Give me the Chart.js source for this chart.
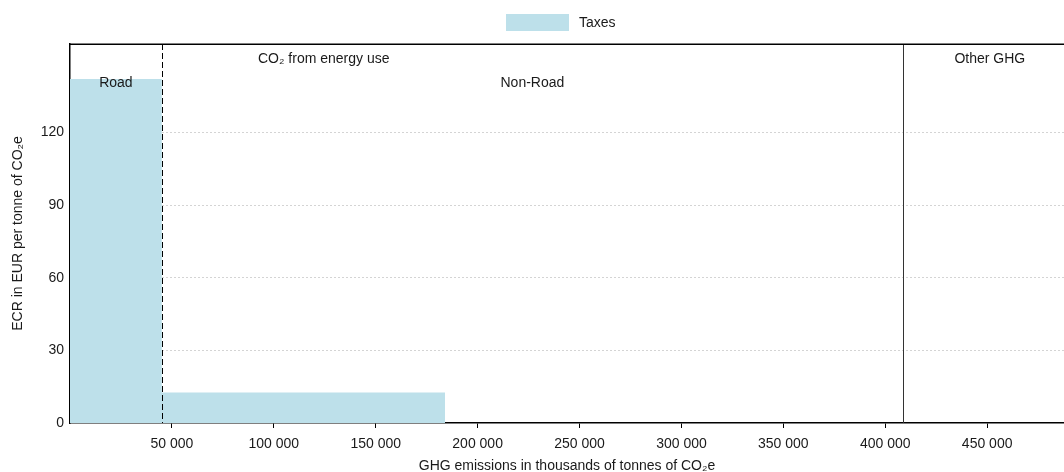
<!DOCTYPE html>
<html>
<head>
<meta charset="utf-8">
<script src="https://cdn.jsdelivr.net/npm/chart.js@4.4.1/dist/chart.umd.min.js"></script>
<style>
  html, body { margin: 0; padding: 0; background: #fff; overflow: hidden; }
  #wrap { width: 1064px; height: 472px; }
</style>
</head>
<body>
<div id="wrap"><canvas id="c" width="1064" height="472"></canvas></div>
<script>
// Emission blocks: cumulative boundaries (thousand t CO2e) and tax rates (EUR / t CO2e)
const blockNames = ['Road', 'Non-Road'];
const blockEnds = [45040, 184000];          // right edge of each taxed block
const blockRates = [142, 12.6];             // effective carbon rate per block
const roadEnd = 45040;                      // Road | Non-Road split (dashed)
const energyEnd = 408700;                   // CO2 from energy use | Other GHG split (solid)
const xMax = 487700;
const yMax = 156.5;
const yTicks = [0, 30, 60, 90, 120];
const xTicks = [50000, 100000, 150000, 200000, 250000, 300000, 350000, 400000, 450000];

const seriesName = 'Taxes';
const barColor = '#bde0ea';
const FONT = '"Liberation Sans", Arial, sans-serif';
const TEXT = '#1a1a1a';

// Step outline of the blocks: start at 0 with the first rate, then one point per block edge
const stepPoints = [{ x: 0, y: blockRates[0] }];
blockEnds.forEach((end, i) => {
  stepPoints.push({ x: end, y: i + 1 < blockRates.length ? blockRates[i + 1] : 0 });
});

const fmt = v => String(v).replace(/\B(?=(\d{3})+(?!\d))/g, ' ');

const annotations = {
  id: 'annotations',
  afterDatasetsDraw(chart) {
    const { ctx, chartArea: a, scales: { x, y } } = chart;
    ctx.save();
    // dashed Road / Non-Road divider
    const xr = Math.round(x.getPixelForValue(roadEnd)) + 0.5;
    ctx.strokeStyle = '#000';
    ctx.lineWidth = 1;
    ctx.setLineDash([6, 3]);
    ctx.beginPath(); ctx.moveTo(xr, a.top); ctx.lineTo(xr, a.bottom); ctx.stroke();
    // solid energy / other GHG divider
    ctx.setLineDash([]);
    const xe = Math.round(x.getPixelForValue(energyEnd)) + 0.5;
    ctx.strokeStyle = '#333';
    ctx.beginPath(); ctx.moveTo(xe, a.top); ctx.lineTo(xe, a.bottom); ctx.stroke();
    // top frame line
    ctx.strokeStyle = '#000';
    ctx.lineWidth = 1.5;
    ctx.beginPath(); ctx.moveTo(a.left, a.top + 0.25); ctx.lineTo(a.right, a.top + 0.25); ctx.stroke();

    // section labels
    ctx.fillStyle = TEXT;
    ctx.font = '14px ' + FONT;
    ctx.textAlign = 'center';
    ctx.textBaseline = 'middle';
    ctx.fillText('CO\u2082 from energy use', x.getPixelForValue(124500), 59);
    ctx.fillText('Other GHG', x.getPixelForValue(451300), 59);
    ctx.fillText(blockNames[0], x.getPixelForValue(roadEnd / 2), 83);
    ctx.fillText(blockNames[1], x.getPixelForValue((roadEnd + energyEnd) / 2), 83);

    // legend
    ctx.fillStyle = barColor;
    ctx.fillRect(506, 14, 63, 17);
    ctx.fillStyle = TEXT;
    ctx.textAlign = 'left';
    ctx.fillText(seriesName, 579, 23);
    ctx.restore();
  }
};

new Chart(document.getElementById('c'), {
  type: 'line',
  data: {
    datasets: [{
      label: seriesName,
      data: stepPoints,
      stepped: true,
      fill: 'origin',
      backgroundColor: barColor,
      borderWidth: 0,
      borderColor: 'rgba(0,0,0,0)',
      pointRadius: 0
    }]
  },
  options: {
    responsive: false,
    animation: false,
    layout: { padding: { top: 44, right: 0, left: 10, bottom: 0 } },
    plugins: { legend: { display: false }, tooltip: { enabled: false } },
    scales: {
      x: {
        type: 'linear',
        min: 0,
        max: xMax,
        afterBuildTicks: s => { s.ticks = xTicks.map(v => ({ value: v })); },
        afterFit: s => { s.height = 49; },
        ticks: {
          autoSkip: false, maxRotation: 0,
          color: TEXT, font: { family: FONT, size: 14 }, padding: 8,
          callback: v => fmt(v)
        },
        grid: { display: true, drawOnChartArea: false, drawTicks: true, tickLength: 5, color: '#000', lineWidth: 1 },
        border: { display: true, color: '#000', width: 1.5 },
        title: {
          display: true, text: 'GHG emissions in thousands of tonnes of CO\u2082e',
          color: TEXT, font: { family: FONT, size: 14 }, padding: { top: 0, bottom: -3 }
        }
      },
      y: {
        min: 0,
        max: yMax,
        afterBuildTicks: s => { s.ticks = yTicks.map(v => ({ value: v })); },
        afterFit: s => { s.width = 60; },
        ticks: { color: TEXT, font: { family: FONT, size: 14 }, padding: 6 },
        grid: {
          display: true, drawTicks: false,
          color: ctx => ctx.tick && ctx.tick.value === 0 ? 'rgba(0,0,0,0)' : '#a8a8a8',
          lineWidth: 1
        },
        border: { display: true, color: '#000', width: 1.5, dash: [1, 3] },
        title: {
          display: true, text: 'ECR in EUR per tonne of CO\u2082e',
          color: TEXT, font: { family: FONT, size: 14 }, padding: { top: 0, bottom: 4 }
        }
      }
    }
  },
  plugins: [annotations]
});
</script>
</body>
</html>
